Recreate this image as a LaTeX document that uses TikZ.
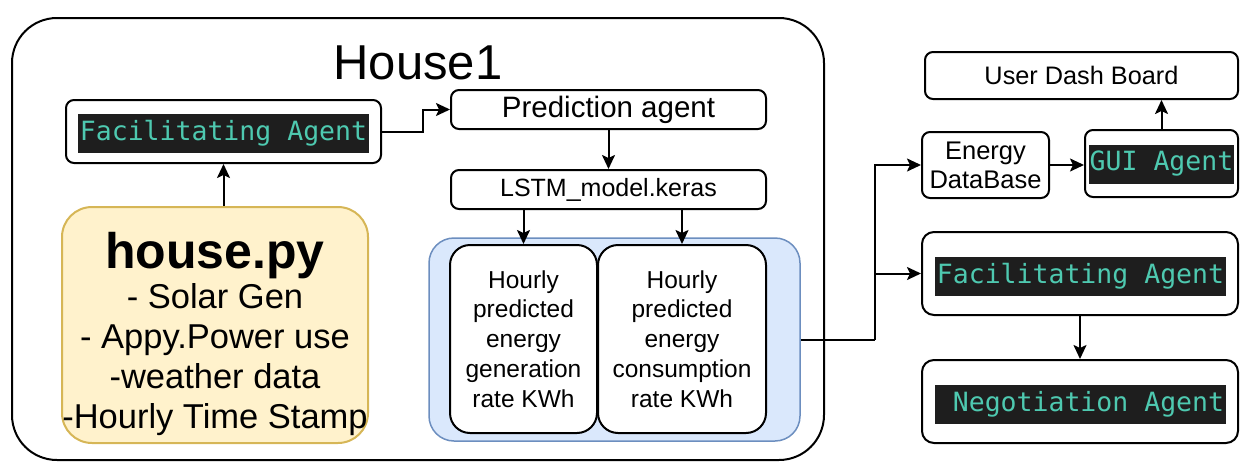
\documentclass[tikz,border=0pt]{standalone}
\usepackage{fontspec}
\setmainfont{Liberation Sans}
\newfontfamily\codefont{DejaVu Sans Mono}
\usetikzlibrary{arrows.meta}
\definecolor{codebg}{HTML}{1E1E1E}
\definecolor{codefg}{HTML}{4EC9B0}
\definecolor{blueedge}{HTML}{6C8EBF}
\definecolor{bluefill}{HTML}{DAE8FC}
\definecolor{yedge}{HTML}{D6B656}
\definecolor{yfill}{HTML}{FFF2CC}
\begin{document}
\begin{tikzpicture}[x=1pt,y=-1pt,
 box/.style={draw, line width=2pt, rounded corners=8pt, fill=white, inner sep=0pt},
 code/.style={fill=codebg, text=codefg, font=\codefont\fontsize{26.5}{30}\selectfont, inner sep=0pt, minimum height=39pt, minimum width=291pt},
 arr/.style={-{Stealth[length=14pt,width=13pt,inset=3pt]}, line width=2pt},
 wire/.style={line width=2pt},
]
\useasboundingbox (0,0) rectangle (1254,469);
\node[draw, line width=2pt, rounded corners=45pt, minimum width=812pt, minimum height=442pt] (house) at (418,239) {};
\node (title) at (418,63) {\fontsize{49}{55}\selectfont House1};

\node[box, minimum width=315pt, minimum height=63pt] (fa1) at (223.5,131.5) {};
\node[code] (fa1t) at (223.5,133) {Facilitating Agent};

\node[box, minimum width=315pt, minimum height=39pt, font=\fontsize{29.5}{32}\selectfont] (pred) at (608.5,109.5) {Prediction agent};
\node[box, minimum width=315pt, minimum height=39pt, font=\fontsize{25}{28}\selectfont] (lstm) at (608.5,189.5) {LSTM\_model.keras};

\node[draw=blueedge, fill=bluefill, line width=1.5pt, rounded corners=25pt, minimum width=371pt, minimum height=203pt] (cont) at (614.5,339.5) {};
\node[box, rounded corners=20pt, minimum width=147pt, minimum height=188pt, align=center, font=\fontsize{24.5}{29.8}\selectfont] (gen) at (523.5,339) {Hourly\\predicted\\energy\\generation\\rate KWh};
\node[box, rounded corners=20pt, minimum width=168pt, minimum height=188pt, align=center, font=\fontsize{24.5}{29.8}\selectfont] (cons) at (682,339) {Hourly\\predicted\\energy\\consumption\\rate KWh};

\node[draw=yedge, fill=yfill, line width=2pt, rounded corners=30pt, minimum width=306pt, minimum height=236pt, inner sep=0pt] (hpy) at (215,325) {};
\node[align=center, inner sep=0pt, font=\fontsize{34.5}{40}\selectfont] (hpyt) at (215,334) {{\fontsize{50}{48}\selectfont\bfseries house.py}\\- Solar Gen\\- Appy.Power use\\-weather data\\-Hourly Time Stamp};

\node[box, minimum width=127pt, minimum height=66pt, align=center, font=\fontsize{25.5}{29}\selectfont] (edb) at (985.5,165) {Energy\\DataBase};
\node[box, minimum width=153pt, minimum height=67pt] (gui) at (1161.5,163.5) {};
\node[code, minimum width=145pt] (guit) at (1161.5,164) {GUI Agent};
\node[box, minimum width=313pt, minimum height=47pt, font=\fontsize{25.3}{28}\selectfont] (dash) at (1081.5,75.5) {User Dash Board};
\node[box, rounded corners=12pt, minimum width=316pt, minimum height=83pt] (fa2) at (1080,273.5) {};
\node[code] (fa2t) at (1080.5,276) {Facilitating Agent};
\node[box, rounded corners=12pt, minimum width=316pt, minimum height=83pt] (neg) at (1080,401.5) {};
\node[code] (negt) at (1080.5,404) {\ Negotiation Agent};

\draw[arr] (fa1.south |- hpy.north) -- (fa1.south);
\draw[arr] (fa1.east) -- ++(41,0) |- (pred.west);
\draw[arr] (pred.south) -- (lstm.north);
\draw[arr] (gen.north |- lstm.south) -- (gen.north);
\draw[arr] (cons.north |- lstm.south) -- (cons.north);
\coordinate (split) at (875,339.5);
\draw[wire] (cont.east) -- (split);
\draw[arr] (split) |- (edb.west);
\draw[arr] (split) |- (fa2.west);
\draw[arr] (edb.east) -- (edb.east -| gui.west);
\draw[arr] (gui.north) -- (gui.north |- dash.south);
\draw[arr] (fa2.south) -- (neg.north);
\end{tikzpicture}
\end{document}
